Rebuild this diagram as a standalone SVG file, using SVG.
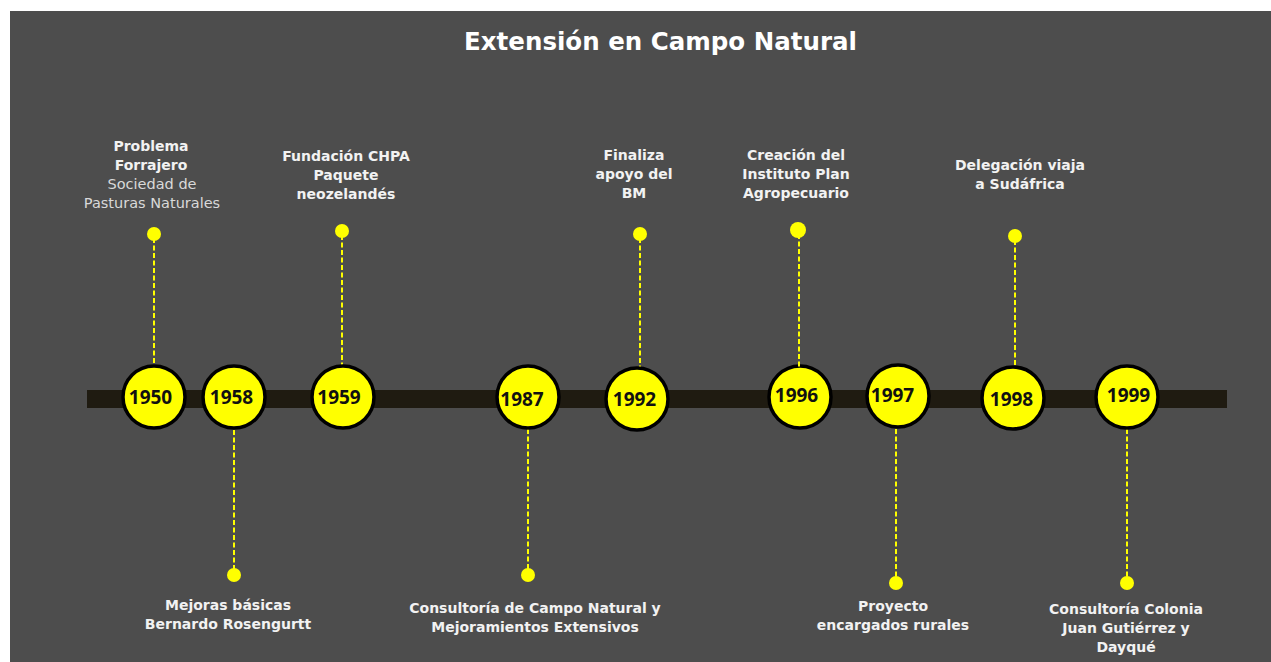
<svg xmlns="http://www.w3.org/2000/svg" width="1271" height="662" viewBox="0 0 1271 662">
<style>
.bg{fill:#4d4d4d}
.bar{fill:#1f1b11}
.yc{fill:#ffff00;stroke:#000;stroke-width:3.5}
.dot{fill:#ffff00}
.yr{font-family:"Open Sans","DejaVu Sans",sans-serif;font-weight:700;font-size:19px;fill:#111;text-anchor:middle}
.lb{font-family:"DejaVu Sans","Liberation Sans",sans-serif;font-weight:700;font-size:14px;fill:#f2f2f2;text-anchor:middle}
.lr{font-family:"DejaVu Sans","Liberation Sans",sans-serif;font-weight:400;font-size:14.5px;fill:#d9d9d9;text-anchor:middle}
.title{font-family:"DejaVu Sans","Liberation Sans",sans-serif;font-weight:700;font-size:24.5px;fill:#ffffff;text-anchor:middle}
.dl{stroke:#ffff00;stroke-width:2;stroke-dasharray:5 2.5;fill:none}
</style>
<rect x="0" y="0" width="1271" height="662" fill="#ffffff"/>
<rect class="bg" x="10" y="11" width="1261" height="651"/>
<text class="title" x="660.5" y="50">Extensión en Campo Natural</text>
<rect class="bar" x="87" y="390" width="1140" height="18"/>
<g id="connectors">
<line class="dl" x1="154" y1="238" x2="154" y2="365"/>
<line class="dl" x1="234" y1="430" x2="234" y2="572"/>
<line class="dl" x1="342" y1="235" x2="342" y2="365"/>
<line class="dl" x1="528" y1="429" x2="528" y2="572"/>
<line class="dl" x1="640" y1="238" x2="640" y2="367"/>
<line class="dl" x1="896" y1="429" x2="896" y2="580"/>
<line class="dl" x1="1015" y1="240" x2="1015" y2="365"/>
<line class="dl" x1="1127" y1="429" x2="1127" y2="580"/>
</g>
<g id="n1950">
<circle class="dot" cx="154" cy="234" r="7"/>
<circle class="yc" cx="154" cy="397" r="31"/>
<text class="yr" x="150.5" y="404">1950</text>
<text class="lb" x="151" y="151">Problema</text>
<text class="lb" x="151" y="170">Forrajero</text>
<text class="lr" x="152" y="189">Sociedad de</text>
<text class="lr" x="152" y="208">Pasturas Naturales</text>
</g>
<g id="n1958">
<circle class="dot" cx="234" cy="575" r="7"/>
<circle class="yc" cx="234" cy="397" r="31"/>
<text class="yr" x="231.5" y="404">1958</text>
<text class="lb" x="228" y="610">Mejoras básicas</text>
<text class="lb" x="228" y="629">Bernardo Rosengurtt</text>
</g>
<g id="n1959">
<circle class="dot" cx="342" cy="231" r="7"/>
<circle class="yc" cx="343" cy="397" r="31"/>
<text class="yr" x="339" y="404">1959</text>
<text class="lb" x="346" y="161">Fundación CHPA</text>
<text class="lb" x="346" y="180">Paquete</text>
<text class="lb" x="346" y="199">neozelandés</text>
</g>
<g id="n1987">
<circle class="dot" cx="528" cy="575" r="7"/>
<circle class="yc" cx="528" cy="397" r="31"/>
<text class="yr" x="522" y="406">1987</text>
<text class="lb" x="535" y="613">Consultoría de Campo Natural y</text>
<text class="lb" x="535" y="632">Mejoramientos Extensivos</text>
</g>
<g id="n1992">
<circle class="dot" cx="640" cy="234" r="7"/>
<circle class="yc" cx="637" cy="399" r="31"/>
<text class="yr" x="634.5" y="406">1992</text>
<text class="lb" x="634" y="160">Finaliza</text>
<text class="lb" x="634" y="179">apoyo del</text>
<text class="lb" x="634" y="198">BM</text>
</g>
<g id="n1996">
<circle class="yc" cx="800" cy="397" r="31"/>
<line class="dl" x1="799" y1="234" x2="799" y2="388"/>
<circle class="dot" cx="798" cy="230" r="8"/>
<text class="yr" x="796.5" y="402">1996</text>
<text class="lb" x="796" y="160">Creación del</text>
<text class="lb" x="796" y="179">Instituto Plan</text>
<text class="lb" x="796" y="198">Agropecuario</text>
</g>
<g id="n1997">
<circle class="dot" cx="896" cy="583" r="7"/>
<circle class="yc" cx="898" cy="396" r="31"/>
<text class="yr" x="892.5" y="402">1997</text>
<text class="lb" x="893" y="611">Proyecto</text>
<text class="lb" x="893" y="630">encargados rurales</text>
</g>
<g id="n1998">
<circle class="dot" cx="1015" cy="236" r="7"/>
<circle class="yc" cx="1013" cy="398" r="31"/>
<text class="yr" x="1011.5" y="406">1998</text>
<text class="lb" x="1020" y="170">Delegación viaja</text>
<text class="lb" x="1020" y="189">a Sudáfrica</text>
</g>
<g id="n1999">
<circle class="dot" cx="1127" cy="583" r="7"/>
<circle class="yc" cx="1127" cy="397" r="31"/>
<text class="yr" x="1128.5" y="402">1999</text>
<text class="lb" x="1126" y="614">Consultoría Colonia</text>
<text class="lb" x="1126" y="633">Juan Gutiérrez y</text>
<text class="lb" x="1126" y="652">Dayqué</text>
</g>
</svg>
